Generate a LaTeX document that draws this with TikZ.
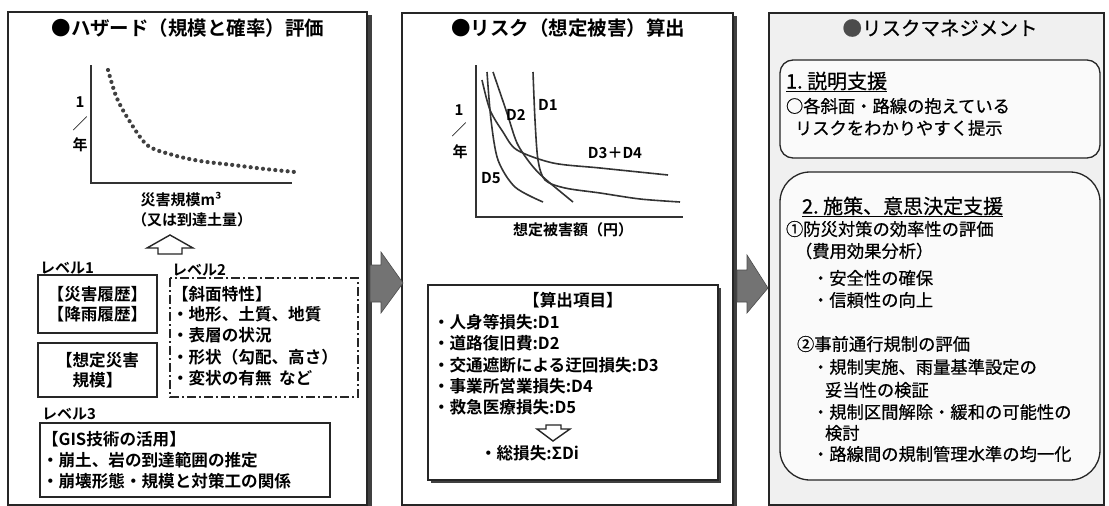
\documentclass[tikz,border=0pt]{standalone}
\usepackage{fontspec}
\setmainfont{Noto Sans CJK JP}[BoldFont={Noto Sans CJK JP Bold}]
\newfontfamily\jpmed{Noto Sans CJK JP}[FakeBold=0.6]
\begin{document}
\begin{tikzpicture}[x=1pt,y=-1pt,
  every node/.style={inner sep=0pt,outer sep=0pt},
  ttl/.style={font=\fontsize{19.5}{22}\selectfont\bfseries,anchor=center},
  ttlr/.style={font=\fontsize{19.5}{22}\selectfont\jpmed,anchor=center},
  bt/.style={font=\fontsize{16.6}{20}\selectfont\bfseries,anchor=west},
  bc/.style={font=\fontsize{16.6}{20}\selectfont\bfseries,anchor=center,align=center},
  lt/.style={font=\fontsize{17.3}{20}\selectfont\jpmed,anchor=west},
  hd/.style={font=\fontsize{20}{22}\selectfont\jpmed,anchor=west},
  lvl/.style={font=\fontsize{15}{18}\selectfont\bfseries,anchor=west},
  gl/.style={font=\fontsize{15}{18}\selectfont\bfseries,anchor=center},
  panelline/.style={draw=black!85,line width=1.2pt},
  boxline/.style={draw=black!85,line width=1.3pt},
  curve/.style={draw=black!80,line width=1.6pt},
  axis/.style={draw=black!80,line width=1.6pt},
  blockarrow/.style={fill=black!55,draw=black!70,line width=0.6pt},
  hollow/.style={draw=black!85,line width=1.4pt,fill=white,line join=miter}
]
\useasboundingbox (0,0) rectangle (1109,506);

% ---------- panels ----------
\fill[black!75] (367,15) rectangle (372,506);
\draw[panelline,fill=white] (8,12) rectangle (367,505);
\fill[black!75] (733,16) rectangle (737,506);
\draw[panelline,fill=white] (402,13) rectangle (733,505);
\draw[panelline,fill=black!6] (769,13) rectangle (1104,505);

% ---------- block arrows ----------
\path[blockarrow] (370,265) -- (381,265) -- (381,252) -- (403,283) -- (381,313) -- (381,302) -- (370,302) -- cycle;
\path[blockarrow] (737,270) -- (747,270) -- (747,255) -- (768,288) -- (747,313) -- (747,302) -- (737,302) -- cycle;

% ---------- panel 1 ----------
\node[ttl] (t1) at (188,28) {●ハザード（規模と確率）評価};
\coordinate (g1o) at (91,183);
\coordinate (g1y) at (91,65);
\coordinate (g1x) at (292,183);
\draw[axis] (g1y) -- (g1o) -- (g1x);
\draw[draw=black!75,line width=4.2pt,line cap=round,dash pattern=on 0pt off 6.2pt]
  plot[smooth] coordinates {(108,70) (116,96) (127,117) (147,145) (173,155) (200,161) (233,165) (265,169) (295,172)};
\node[gl] (y1a) at (80,102) {1};
\node[gl] (y1b) at (80,124) {／};
\node[gl] (y1c) at (80,145) {年};
\node[gl] (x1a) at (181,200) {災害規模m³};
\node[gl] (x1b) at (192,220) {（又は到達土量）};
\path[hollow] (170,235) -- (193,248) -- (182,248) -- (182,254) -- (158,254) -- (158,248) -- (147,248) -- cycle;

\node[lvl] (l1) at (40,268) {レベル1};
\node[bc,boxline,draw,minimum width=119pt,minimum height=58pt,anchor=north west] (b11) at (38,275) {【災害履歴】\\【降雨履歴】};
\node[bc,boxline,draw,minimum width=119pt,minimum height=54pt,anchor=north west] (b12) at (38,343) {【想定災害\\規模】};

\draw[black!85,line width=1.3pt,dash pattern=on 9pt off 3pt on 2pt off 3pt] (170,278) rectangle (358,397);
\node[lvl] (l2) at (172,270) {レベル2};
\node[bt] (s0) at (172,294) {【斜面特性】};
\node[bt] (s1) at (172,314) {・地形、土質、地質};
\node[bt] (s2) at (172,335) {・表層の状況};
\node[bt] (s3) at (172,357) {・形状（勾配、高さ）};
\node[bt] (s4) at (172,378) {・変状の有無\ \ など};

\node[lvl] (l3) at (42,414) {レベル3};
\draw[boxline] (40,423) rectangle (330,497);
\node[bt] (g0) at (42,439) {【GIS技術の活用】};
\node[bt] (g1) at (42,460) {・崩土、岩の到達範囲の推定};
\node[bt] (g2) at (42,481) {・崩壊形態・規模と対策工の関係};

% ---------- panel 2 ----------
\node[ttl] (t2) at (568,28) {●リスク（想定被害）算出};
\coordinate (g2o) at (476,217);
\coordinate (g2y) at (476,65);
\coordinate (g2x) at (683,217);
\draw[axis] (g2y) -- (g2o) -- (g2x);
\draw[curve] plot[smooth] coordinates {(487,72) (491,120) (498,160) (515,187) (543,202)};
\draw[curve] plot[smooth] coordinates {(493,72) (507,113) (517,143) (530,163) (543,177) (573,202)};
\draw[curve] plot[smooth] coordinates {(533,72) (535,120) (538,160) (545,180) (565,188) (600,193) (640,199) (680,202)};
\draw[curve] plot[smooth] coordinates {(482,80) (490,110) (503,132) (517,150) (553,163) (600,168) (668,175)};
\node[gl] (d1) at (548,105) {D1};
\node[gl] (d2) at (516,115) {D2};
\node[gl] (d34) at (615,153) {D3＋D4};
\node[gl] (d5) at (491,178) {D5};
\node[gl] (y2a) at (459,110) {1};
\node[gl] (y2b) at (459,130) {／};
\node[gl] (y2c) at (460,152) {年};
\node[gl] (x2) at (573,230) {想定被害額（円）};

\fill[black!75] (431,288) rectangle (721,483);
\draw[boxline,fill=white] (428,285) rectangle (718,480);
\node[bc] (c0) at (573,300) {【算出項目】};
\node[bt] (c1) at (433,322) {・人身等損失:D1};
\node[bt] (c2) at (433,343) {・道路復旧費:D2};
\node[bt] (c3) at (433,365) {・交通遮断による迂回損失:D3};
\node[bt] (c4) at (433,386) {・事業所営業損失:D4};
\node[bt] (c5) at (433,407) {・救急医療損失:D5};
\path[hollow] (546,425) -- (561,425) -- (561,429) -- (570,429) -- (553,441) -- (537,429) -- (546,429) -- cycle;
\node[bt] (c6) at (480,453) {・総損失:ΣDi};

% ---------- panel 3 ----------
\node[ttlr] (t3) at (940,28) {{\color{black!70}●}リスクマネジメント};
\draw[black!85,line width=1.3pt,fill=black!2,rounded corners=13pt] (780,60) rectangle (1100,158);
\node[hd] (r0) at (786,82) {\underline{1.\ 説明支援}};
\node[lt] (r1) at (786,106) {○各斜面・路線の抱えている};
\node[lt] (r2) at (795,128) {リスクをわかりやすく提示};

\draw[black!85,line width=1.3pt,fill=black!2,rounded corners=30pt] (780,172) rectangle (1100,480);
\node[hd] (p0) at (802,207) {\underline{2.\ 施策、意思決定支援}};
\node[lt] (p1) at (786,229) {①防災対策の効率性の評価};
\node[lt] (p2) at (795,251) {（費用効果分析）};
\node[lt] (p3) at (812,278) {・安全性の確保};
\node[lt] (p4) at (812,300) {・信頼性の向上};
\node[lt] (p5) at (797,344) {②事前通行規制の評価};
\node[lt] (p6) at (812,367) {・規制実施、雨量基準設定の};
\node[lt] (p7) at (825,390) {妥当性の検証};
\node[lt] (p8) at (812,412) {・規制区間解除・緩和の可能性の};
\node[lt] (p9) at (825,433) {検討};
\node[lt] (p10) at (812,454) {・路線間の規制管理水準の均一化};
\end{tikzpicture}
\end{document}
